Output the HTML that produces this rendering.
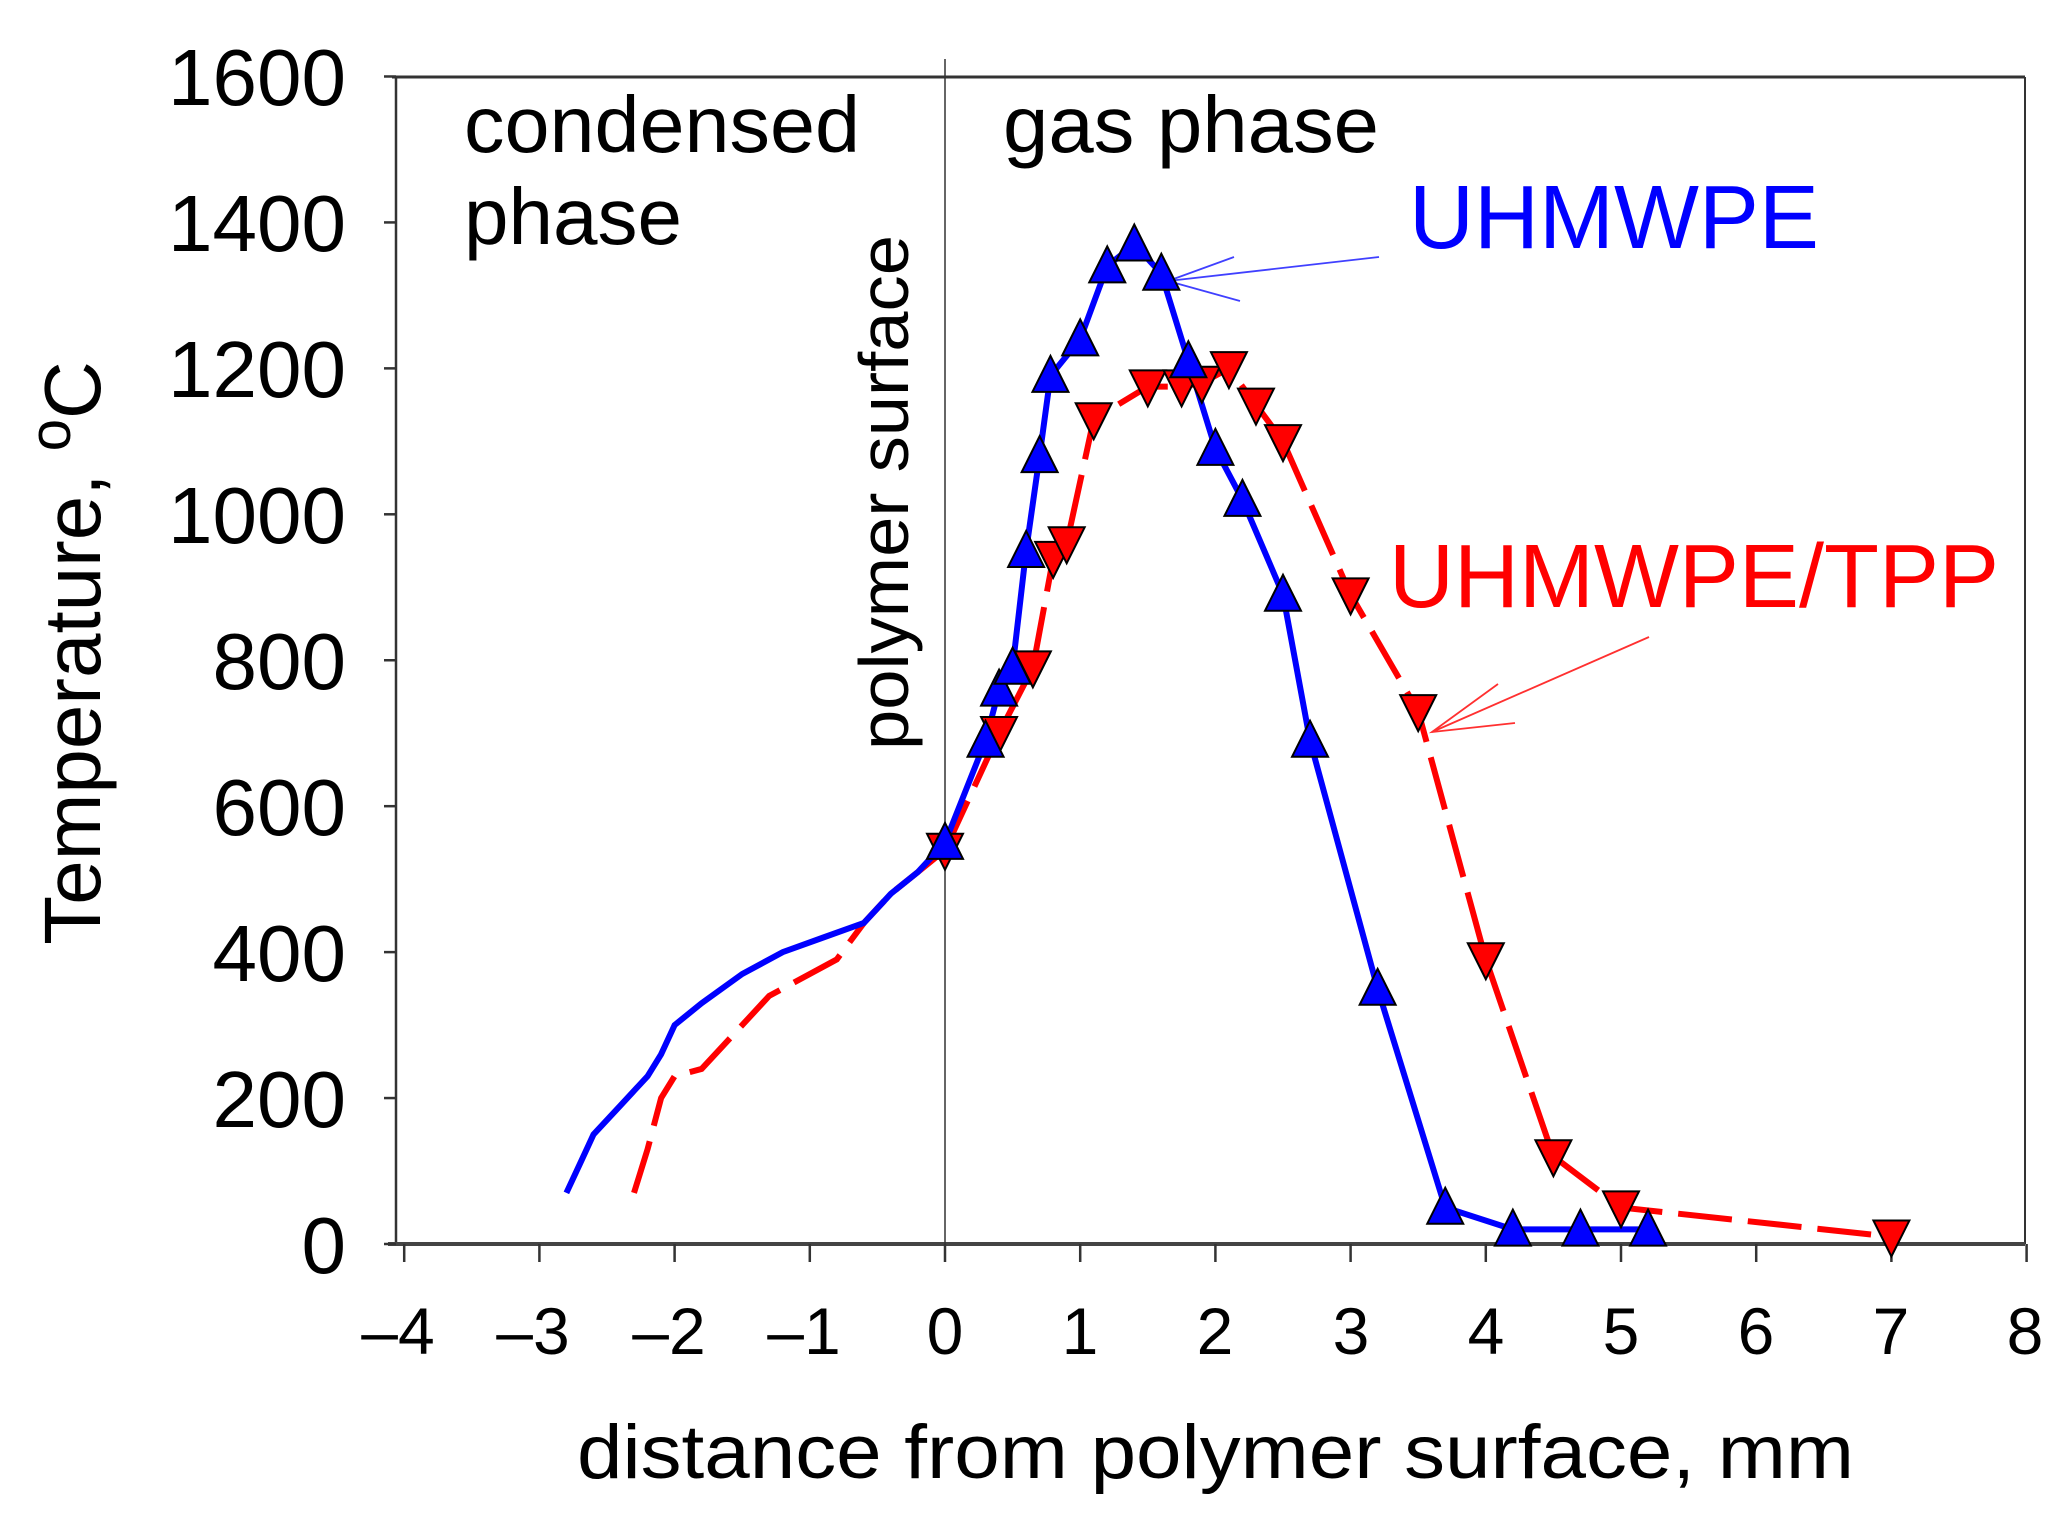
<!DOCTYPE html>
<html><head><meta charset="utf-8"><style>
html,body{margin:0;padding:0;background:#fff;}
svg{display:block;}
text{font-family:"Liberation Sans",Arial,sans-serif;}
</style></head><body>
<svg id="s" width="2069" height="1525" viewBox="0 0 2069 1525" xmlns="http://www.w3.org/2000/svg">
<rect width="2069" height="1525" fill="#fff"/>
<line x1="392" y1="77" x2="2025" y2="77" stroke="#333" stroke-width="3"/>
<line x1="2025" y1="77" x2="2025" y2="1244" stroke="#333" stroke-width="2"/>
<line x1="396" y1="77" x2="396" y2="1244" stroke="#333" stroke-width="2.5"/>
<line x1="388" y1="1244" x2="2025" y2="1244" stroke="#444" stroke-width="4"/>
<line x1="945" y1="59" x2="945" y2="1244" stroke="#333" stroke-width="1.5"/>
<g id="ticks" stroke="#333" stroke-width="2.5"></g>
<g font-size="80" fill="#000" text-anchor="end">
<text x="346" y="105">1600</text><text x="346" y="251">1400</text><text x="346" y="397">1200</text>
<text x="346" y="543">1000</text><text x="346" y="689">800</text><text x="346" y="835">600</text>
<text x="346" y="981">400</text><text x="346" y="1127">200</text><text x="346" y="1273">0</text>
</g>
<g font-size="66" fill="#000" text-anchor="middle">
<text x="398" y="1354">–4</text><text x="533" y="1354">–3</text><text x="669" y="1354">–2</text><text x="804" y="1354">–1</text>
<text x="945" y="1354">0</text><text x="1080" y="1354">1</text><text x="1215" y="1354">2</text><text x="1351" y="1354">3</text>
<text x="1486" y="1354">4</text><text x="1621" y="1354">5</text><text x="1756" y="1354">6</text><text x="1891" y="1354">7</text><text x="2025" y="1354">8</text>
</g>
<text x="577" y="1478" font-size="76" textLength="1277" lengthAdjust="spacingAndGlyphs">distance from polymer surface, mm</text>
<text transform="translate(100,653) rotate(-90)" text-anchor="middle" font-size="80">Temperature, <tspan font-size="58" dy="-30">o</tspan><tspan dy="30">C</tspan></text>
<text x="464" y="152" font-size="80" textLength="396" lengthAdjust="spacingAndGlyphs">condensed</text>
<text x="464" y="244" font-size="80">phase</text>
<text x="1003" y="152" font-size="80" textLength="376" lengthAdjust="spacingAndGlyphs">gas phase</text>
<text transform="translate(908,750) rotate(-90)" font-size="70" textLength="515" lengthAdjust="spacingAndGlyphs">polymer surface</text>
<text x="1409" y="248" font-size="90" fill="#0000ff">UHMWPE</text>
<text x="1389" y="607" font-size="90" fill="#ff0000">UHMWPE/TPP</text>
<g stroke="#4040ff" stroke-width="1.8" fill="none"><polyline points="1379,257 1168,281"/><polyline points="1234,257 1168,281 1240,301"/></g>
<g stroke="#ff3030" stroke-width="1.8" fill="none"><polyline points="1649,637 1432,732"/><polyline points="1498,684 1432,732 1515,723"/></g>
<g id="data"></g>
</svg>
<script>
var X=function(x){return 945+135.2*x}, Y=function(t){return 1244-0.7297*t};
var NS="http://www.w3.org/2000/svg", s=document.getElementById('ticks'), d=document.getElementById('data');
function el(p,n,a){var e=document.createElementNS(NS,n);for(var k in a)e.setAttribute(k,a[k]);p.appendChild(e);return e;}
for(var i=0;i<=8;i++){var y=Y(i*200);el(s,'line',{x1:384,x2:396,y1:y,y2:y});}
for(var i=-4;i<=8;i++){var x=X(i);el(s,'line',{x1:x,x2:x,y1:1244,y2:1262});}
function pts(a){return a.map(function(p){return X(p[0]).toFixed(1)+','+Y(p[1]).toFixed(1)}).join(' ');}
var bl=[[-2.8,70],[-2.7,110],[-2.6,150],[-2.4,190],[-2.2,230],[-2.1,260],[-2,300],[-1.8,330],[-1.5,370],[-1.2,400],[-0.9,420],[-0.6,440],[-0.4,480],[-0.2,510],[0,550]];
var bt=[[0,550],[0.3,690],[0.4,760],[0.5,790],[0.6,950],[0.7,1080],[0.78,1190],[1,1240],[1.2,1340],[1.4,1370],[1.6,1330],[1.8,1210],[2,1090],[2.2,1020],[2.5,890],[2.7,690],[3.2,350],[3.7,50],[4.2,20],[4.7,20],[5.2,20]];
var rl=[[-2.3,70],[-2.2,130],[-2.1,200],[-2,230],[-1.8,240],[-1.6,280],[-1.3,340],[-1,370],[-0.8,390],[-0.6,440],[-0.4,480],[-0.2,510],[0,540]];
var rt=[[0,540],[0.4,700],[0.65,790],[0.8,940],[0.9,960],[1.1,1130],[1.5,1175],[1.75,1175],[1.9,1180],[2.1,1200],[2.3,1150],[2.5,1100],[3,890],[3.5,730],[4,390],[4.5,120],[5,50],[7,10]];
el(d,'polyline',{points:pts(rl),fill:'none',stroke:'#ff0000','stroke-width':6,'stroke-dasharray':'54,16'});
el(d,'polyline',{points:pts(rt),fill:'none',stroke:'#ff0000','stroke-width':6,'stroke-dasharray':'54,16'});
el(d,'polyline',{points:pts(bl),fill:'none',stroke:'#0000ff','stroke-width':6});
el(d,'polyline',{points:pts(bt),fill:'none',stroke:'#0000ff','stroke-width':6});
var h=18;
rt.forEach(function(p){var x=X(p[0]),y=Y(p[1]);el(d,'polygon',{points:(x-h)+','+(y-h*0.9)+' '+(x+h)+','+(y-h*0.9)+' '+x+','+(y+h*1.1),fill:'#ff0000',stroke:'#000','stroke-width':2});});
bt.forEach(function(p){var x=X(p[0]),y=Y(p[1]);el(d,'polygon',{points:(x-h)+','+(y+h*0.9)+' '+(x+h)+','+(y+h*0.9)+' '+x+','+(y-h*1.1),fill:'#0000ff',stroke:'#000','stroke-width':2});});
</script>
</body></html>
